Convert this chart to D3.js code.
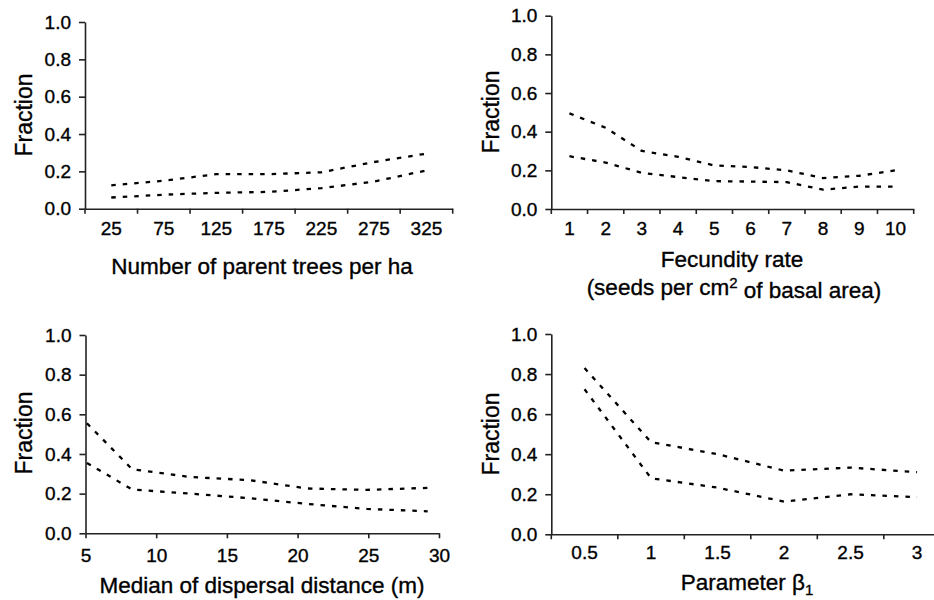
<!DOCTYPE html>
<html>
<head>
<meta charset="utf-8">
<script src="https://cdn.jsdelivr.net/npm/d3@7"></script>
<style>
  body { margin: 0; background: #fff; }
  text { font-family: "Liberation Sans", Arial, sans-serif; fill: #000; stroke: #000; stroke-width: 0.35px; }
  .domain, .tick line { stroke: #222; stroke-width: 1.6; }
</style>
</head>
<body>
<script>
// values
const fracTicks = [0, 0.2, 0.4, 0.6, 0.8, 1.0];

const treeCats = ["25", "75", "125", "175", "225", "275", "325"];
const treeUpper = [0.125, 0.15, 0.185, 0.185, 0.195, 0.25, 0.295];
const treeLower = [0.06, 0.075, 0.085, 0.09, 0.11, 0.145, 0.205];

const fecCats = ["1", "2", "3", "4", "5", "6", "7", "8", "9", "10"];
const fecUpper = [0.495, 0.42, 0.30, 0.27, 0.225, 0.217, 0.20, 0.16, 0.172, 0.20];
const fecLower = [0.273, 0.24, 0.187, 0.165, 0.144, 0.142, 0.139, 0.10, 0.116, 0.116];

const distTicks = [5, 10, 15, 20, 25, 30];
const distX = [5.1, 8.3, 12.4, 16.6, 20.7, 24.9, 29.2];
const distUpper = [0.555, 0.323, 0.284, 0.268, 0.226, 0.219, 0.229];
const distLower = [0.355, 0.221, 0.200, 0.177, 0.148, 0.123, 0.111];

const betaCats = ["0.5", "1", "1.5", "2", "2.5", "3"];
const betaUpper = [0.83, 0.46, 0.40, 0.318, 0.333, 0.31];
const betaLower = [0.724, 0.28, 0.233, 0.163, 0.20, 0.185];

const canvWidth = 934, canvHeight = 600;
const tickFont = "19px", titleFont = "22.5px";

const svg = d3.select("body").append("svg")
    .attr("width", canvWidth)
    .attr("height", canvHeight);

const line = d3.line();

function drawY(g, y, x0) {
    g.append("g")
        .attr("transform", "translate(" + x0 + ",0)")
        .call(d3.axisLeft(y).tickValues(fracTicks).tickFormat(d3.format(".1f"))
            .tickSizeInner(6).tickSizeOuter(0).tickPadding(8))
        .call(a => a.selectAll("text").style("font-size", tickFont));
}

function drawLines(g, pts) {
    pts.forEach(p => {
        g.append("path")
            .attr("d", line(p))
            .attr("fill", "none")
            .attr("stroke", "#000")
            .attr("stroke-width", 2.3)
            .attr("stroke-dasharray", "4.5,7");
    });
}

function fractionLabel(g, cx, cy) {
    g.append("text")
        .attr("transform", "translate(" + cx + "," + cy + ") rotate(-90)")
        .attr("dy", "0.35em")
        .style("text-anchor", "middle")
        .style("font-size", "23px")
        .text("Fraction");
}

// band axis: labels at band centres, ticks at band edges
function drawBandAxis(g, xb, y0, pad) {
    g.append("g")
        .attr("transform", "translate(0," + y0 + ")")
        .call(d3.axisBottom(xb).tickSize(0).tickPadding(pad))
        .call(a => a.selectAll("text").style("font-size", tickFont));
    const edges = xb.domain().map(d => xb(d)).concat([xb.range()[1]]);
    g.selectAll(null).data(edges).enter().append("line")
        .attr("x1", d => d).attr("x2", d => d)
        .attr("y1", y0).attr("y2", y0 + 5)
        .attr("stroke", "#222").attr("stroke-width", 1.6);
}

// panel 1: number of parent trees
(function () {
    const g = svg.append("g");
    const x = d3.scaleBand().domain(treeCats).range([85, 452.7]);
    const y = d3.scaleLinear().domain([0, 1]).range([208.7, 22]);
    drawBandAxis(g, x, 208.7, 13);
    drawY(g, y, 85);
    const cx = d => x(d) + x.bandwidth() / 2;
    drawLines(g, [
        treeCats.map((c, i) => [cx(c), y(treeUpper[i])]),
        treeCats.map((c, i) => [cx(c), y(treeLower[i])])
    ]);
    fractionLabel(g, 23.5, 115);
    g.append("text").attr("x", 262).attr("y", 274)
        .style("text-anchor", "middle").style("font-size", titleFont)
        .text("Number of parent trees per ha");
})();

// panel 2: fecundity rate
(function () {
    const g = svg.append("g");
    const x = d3.scaleBand().domain(fecCats).range([551.3, 913.7]);
    const y = d3.scaleLinear().domain([0, 1]).range([209, 15.7]);
    drawBandAxis(g, x, 209, 12.7);
    drawY(g, y, 551.3);
    const cx = d => x(d) + x.bandwidth() / 2;
    drawLines(g, [
        fecCats.map((c, i) => [cx(c), y(fecUpper[i])]),
        fecCats.map((c, i) => [cx(c), y(fecLower[i])])
    ]);
    fractionLabel(g, 490.5, 112);
    g.append("text").attr("x", 732).attr("y", 267)
        .style("text-anchor", "middle").style("font-size", titleFont)
        .text("Fecundity rate");
    const t = g.append("text").attr("x", 734).attr("y", 295)
        .style("text-anchor", "middle").style("font-size", titleFont);
    t.append("tspan").text("(seeds per cm");
    t.append("tspan").attr("dy", "-0.45em").style("font-size", "15px").text("2");
    t.append("tspan").attr("dy", "0.45em").text(" of basal area)");
})();

// panel 3: median dispersal distance
(function () {
    const g = svg.append("g");
    const x = d3.scaleLinear().domain([5, 30]).range([85.5, 439]);
    const y = d3.scaleLinear().domain([0, 1]).range([533.3, 335]);
    g.append("g")
        .attr("transform", "translate(0,533.3)")
        .call(d3.axisBottom(x).tickValues(distTicks).tickSizeInner(5).tickSizeOuter(0).tickPadding(10))
        .call(a => a.selectAll("text").style("font-size", tickFont));
    drawY(g, y, 85.5);
    drawLines(g, [
        distX.map((d, i) => [x(d), y(distUpper[i])]),
        distX.map((d, i) => [x(d), y(distLower[i])])
    ]);
    fractionLabel(g, 23.5, 433);
    g.append("text").attr("x", 262).attr("y", 593)
        .style("text-anchor", "middle").style("font-size", titleFont)
        .text("Median of dispersal distance (m)");
})();

// panel 4: parameter beta1 (right edge of the figure is cropped)
(function () {
    const g = svg.append("g");
    const x = d3.scaleBand().domain(betaCats).range([551.3, 950.3]);
    const y = d3.scaleLinear().domain([0, 1]).range([534.3, 334]);
    drawBandAxis(g, x, 534.3, 11.7);
    drawY(g, y, 551.3);
    const cx = d => x(d) + x.bandwidth() / 2;
    drawLines(g, [
        betaCats.map((c, i) => [cx(c), y(betaUpper[i])]),
        betaCats.map((c, i) => [cx(c), y(betaLower[i])])
    ]);
    fractionLabel(g, 490.5, 434);
    const t = g.append("text").attr("x", 747).attr("y", 590)
        .style("text-anchor", "middle").style("font-size", titleFont);
    t.append("tspan").text("Parameter β");
    t.append("tspan").attr("dy", "0.3em").style("font-size", "15px").text("1");
})();
</script>
</body>
</html>
